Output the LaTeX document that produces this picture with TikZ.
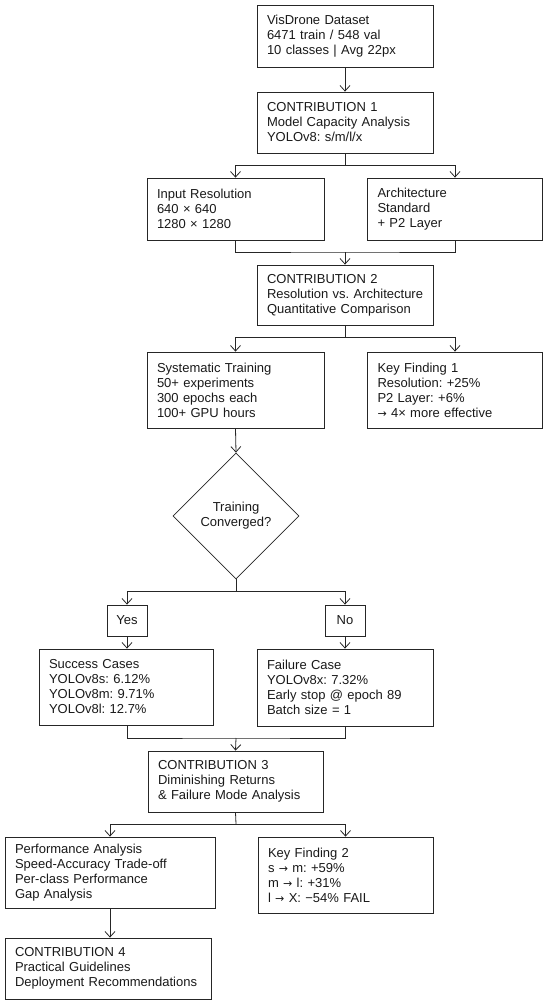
\documentclass[tikz,border=0pt]{standalone}
\usepackage{fontspec}
\setmainfont{Liberation Sans}
\newfontfamily\symf{DejaVu Sans}
\newcommand\myarr{{\symf\fontsize{11pt}{15pt}\selectfont →}}
\usetikzlibrary{arrows.meta,shapes.geometric}
\frenchspacing
\begin{document}
\begin{tikzpicture}[x=1pt,y=-1pt,
  every node/.style={font=\fontsize{13pt}{15pt}\selectfont, text=black!90},
  box/.style={draw=black!85, line width=0.8pt, rectangle, align=left, inner xsep=10pt, inner ysep=0pt},
  lbox/.style={draw=black!85, line width=0.8pt, rectangle, align=center, inner sep=0pt},
  conn/.style={draw=black!85, line width=0.8pt},
  arr/.style={conn, -{Straight Barb[length=5.5pt,width=10pt]}},
]
\useasboundingbox (0,0) rectangle (550,1004);

\node[box, text width=156pt, minimum height=62pt] (vis) at (345,36) {VisDrone Dataset\\6471 train / 548 val\\10 classes | Avg 22px};
\node[box, text width=156pt, minimum height=61pt] (c1) at (345,122.5) {CONTRIBUTION 1\\Model Capacity Analysis\\YOLOv8: s/m/l/x};
\node[box, text width=157pt, minimum height=62pt] (ir) at (235.5,209) {Input Resolution\\640 × 640\\1280 × 1280};
\node[box, text width=155pt, minimum height=62pt] (arch) at (455,209) {Architecture\\Standard\\+ P2 Layer};
\node[box, text width=156pt, minimum height=60pt] (c2) at (345,295) {CONTRIBUTION 2\\\mbox{Resolution vs. Architecture}\\Quantitative Comparison};
\node[box, text width=157pt, minimum height=76pt] (st) at (235.5,390) {Systematic Training\\50+ experiments\\300 epochs each\\100+ GPU hours};
\node[box, text width=155pt, minimum height=76pt] (kf1) at (455,390) {Key Finding 1\\Resolution: +25\%\\P2 Layer: +6\%\\\myarr{} 4× more effective};
\node[draw=black!85, line width=0.8pt, diamond, align=center, inner sep=0pt, minimum width=126pt, minimum height=126pt] (dia) at (236,516) {Training\\Converged?};
\node[lbox, minimum width=40pt, minimum height=31pt] (yes) at (127,620.5) {Yes};
\node[lbox, minimum width=40pt, minimum height=31pt] (no) at (345,620.5) {No};
\node[box, text width=154pt, minimum height=76pt] (succ) at (126,687) {Success Cases\\YOLOv8s: 6.12\%\\YOLOv8m: 9.71\%\\YOLOv8l: 12.7\%};
\node[box, text width=156pt, minimum height=77pt] (fail) at (345,687.5) {Failure Case\\YOLOv8x: 7.32\%\\Early stop @ epoch 89\\Batch size = 1};
\node[box, text width=155pt, minimum height=61pt] (c3) at (235.5,781.5) {CONTRIBUTION 3\\Diminishing Returns\\\& Failure Mode Analysis};
\node[box, text width=190pt, minimum height=71pt] (perf) at (110,872.5) {Performance Analysis\\Speed-Accuracy Trade-off\\Per-class Performance\\Gap Analysis};
\node[box, text width=155pt, minimum height=76pt] (kf2) at (345.5,875) {Key Finding 2\\s \myarr{} m: +59\%\\m \myarr{} l: +31\%\\l \myarr{} X: −54\% FAIL};
\node[box, text width=186pt, minimum height=61pt] (c4) at (108,968.5) {CONTRIBUTION 4\\Practical Guidelines\\Deployment Recommendations};

\coordinate (j1) at (345,165);
\coordinate (j2) at (345,252);
\coordinate (j3) at (345,337);
\coordinate (j4) at (236,591);
\coordinate (j5) at (236,738);
\coordinate (j6) at (236,824);

\draw[arr] (vis.south) -- (c1.north);
\draw[conn] (c1.south) -- (j1);
\draw[arr] (j1) -| (ir.north);
\draw[arr] (j1) -| (arch.north);
\draw[conn] (ir.south) |- (j2) -| (arch.south);
\draw[arr] (j2) -- (c2.north);
\draw[conn] (c2.south) -- (j3);
\draw[arr] (j3) -| (st.north);
\draw[arr] (j3) -| (kf1.north);
\draw[arr] (st.south) -- (dia.north);
\draw[conn] (dia.south) -- (j4);
\draw[arr] (j4) -| (yes.north);
\draw[arr] (j4) -| (no.north);
\draw[arr] (yes.south) -- (yes.south |- succ.north);
\draw[arr] (no.south) -- (no.south |- fail.north);
\draw[conn] (yes.south |- succ.south) |- (j5) -| (fail.south);
\draw[arr] (j5) -- (c3.north);
\draw[conn] (c3.south) -- (j6);
\draw[arr] (j6) -| (perf.north);
\draw[arr] (j6) -| (kf2.north);
\draw[arr] (perf.south) -- (perf.south |- c4.north);
\end{tikzpicture}
\end{document}
